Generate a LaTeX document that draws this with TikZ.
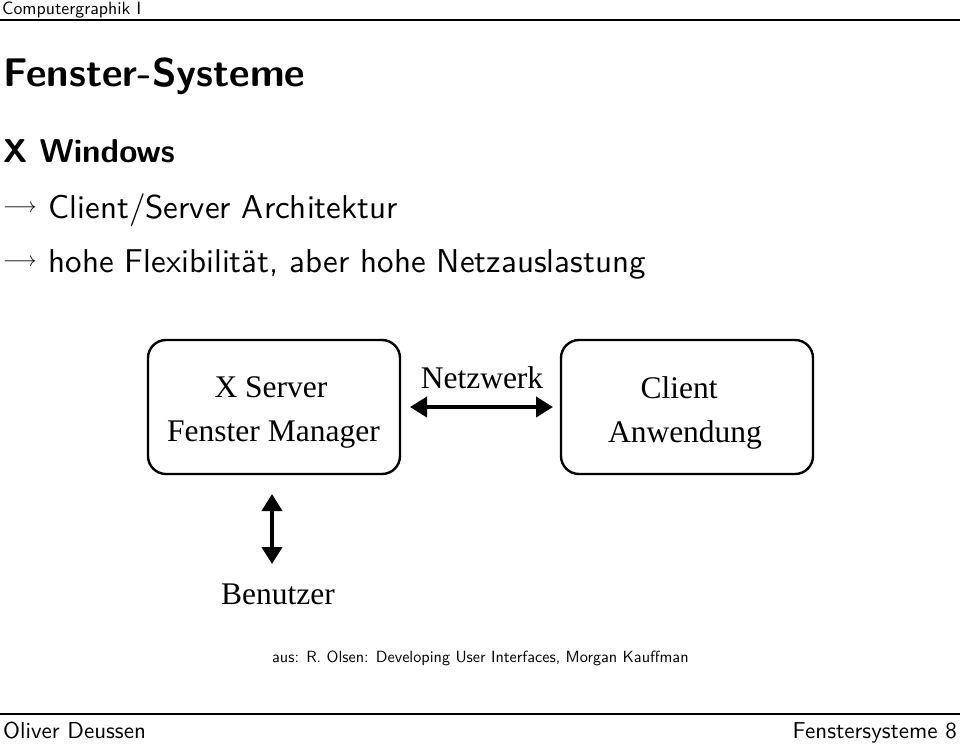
\documentclass[tikz,border=0pt]{standalone}
\usepackage{fontspec}
\setsansfont{lmsans10-regular.otf}[BoldFont=lmsans10-bold.otf]
\newfontfamily\diagfont{Liberation Serif}
\usetikzlibrary{arrows.meta}
\newcommand{\slidearrow}{\raisebox{6pt}{\fontsize{20}{24}\selectfont$\longrightarrow$}\hspace{12pt}}
\begin{document}
\begin{tikzpicture}[x=1pt,y=-1pt,
  slidetext/.style={anchor=base west,inner sep=0pt,font=\sffamily},
  boxnode/.style={draw,line width=2.4pt,rounded corners=18pt,minimum width=252pt,minimum height=134pt,inner sep=0pt},
  difftext/.style={inner sep=0pt,anchor=base,font=\diagfont\fontsize{31.5}{38}\selectfont},
  bigarrow/.style={line width=4pt,{Triangle[width=20pt,length=17pt]}-{Triangle[width=20pt,length=17pt]}}
]
\useasboundingbox (0,0) rectangle (960,745);
% header
\node[slidetext,font=\sffamily\fontsize{17.8}{20}\selectfont] (hdr) at (2,14) {Computergraphik I};
\draw[line width=2pt] (0,19.5) -- (960,19.5);
% title lines
\node[slidetext,font=\sffamily\bfseries\fontsize{40}{46}\selectfont] (title) at (3,86) {Fenster-Systeme};
\node[slidetext,font=\sffamily\bfseries\fontsize{33}{40}\selectfont] (sub) at (3,162) {X Windows};
\node[slidetext,font=\sffamily\fontsize{33}{40}\selectfont] (l1) at (3,218) {\slidearrow Client/Server Architektur};
\node[slidetext,font=\sffamily\fontsize{33}{40}\selectfont] (l2) at (3,272) {\slidearrow hohe Flexibilit\"at, aber hohe Netzauslastung};
% diagram
\node[boxnode] (server) at (274,407) {};
\node[difftext] (s1) at (271,397) {X Server};
\node[difftext] (s2) at (273.5,441) {Fenster Manager};
\node[boxnode] (client) at (687,407) {};
\node[difftext] (c1) at (679,398) {Client};
\node[difftext] (c2) at (685,442) {Anwendung};
\node[difftext] (netz) at (482,388) {Netzwerk};
\coordinate (nl) at (410,407);
\coordinate (nr) at (553,407);
\draw[bigarrow] (nl) -- (nr);
\coordinate (vt) at (272,494);
\coordinate (vb) at (272,564);
\draw[bigarrow] (vt) -- (vb);
\node[difftext] (ben) at (278,604) {Benutzer};
\node[slidetext,font=\sffamily\fontsize{16.2}{18}\selectfont] (src) at (272,662) {aus: R. Olsen: Developing User Interfaces, Morgan Kauffman};
% footer
\draw[line width=2pt] (0,714) -- (960,714);
\node[slidetext,font=\sffamily\fontsize{23}{26}\selectfont] (ftl) at (3,738) {Oliver Deussen};
\node[anchor=base east,inner sep=0pt,font=\sffamily\fontsize{23}{26}\selectfont] (ftr) at (957,738) {Fenstersysteme 8};
\end{tikzpicture}
\end{document}
